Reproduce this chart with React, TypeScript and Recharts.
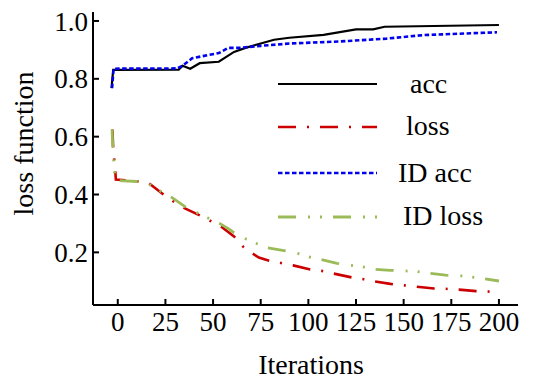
import React from 'react';
import { LineChart, Line, XAxis, YAxis } from 'recharts';

const accIter = [-3.3, -2.4, 32, 34, 38, 43, 53, 61, 67, 75, 82, 90, 108, 125, 134, 140, 200];
const accVal = [0.768, 0.831, 0.832, 0.845, 0.835, 0.854, 0.859, 0.893, 0.907, 0.922, 0.935, 0.942, 0.952, 0.971, 0.971, 0.98, 0.986];

const idAccIter = [-3, -2.2, 31, 34, 39, 48, 53, 58, 64, 75, 90, 116, 141, 160, 199];
const idAccVal = [0.768, 0.835, 0.836, 0.845, 0.871, 0.883, 0.889, 0.907, 0.907, 0.914, 0.922, 0.929, 0.939, 0.951, 0.961];

const lossIter = [-2.8, -2.4, -1.3, -1, 10, 16, 24, 29, 35.5, 43, 54, 61, 66, 70, 74, 79, 85, 92, 101, 107, 113, 123, 129, 135, 143, 150, 157, 166, 172, 179, 188, 200];
const lossVal = [0.625, 0.56, 0.48, 0.452, 0.446, 0.441, 0.4, 0.377, 0.351, 0.328, 0.29, 0.255, 0.218, 0.199, 0.182, 0.172, 0.164, 0.155, 0.141, 0.136, 0.127, 0.113, 0.107, 0.099, 0.091, 0.086, 0.081, 0.075, 0.074, 0.071, 0.066, 0.063];

const idLossIter = [-3, -2.6, -1.5, -1, 10, 16, 24, 28.5, 36, 42, 47, 53, 58, 61, 66, 72, 78, 88, 94, 100, 106, 115, 121, 128, 134, 143, 150, 157, 163, 172, 182, 191, 200];
const idLossVal = [0.625, 0.56, 0.46, 0.449, 0.445, 0.437, 0.405, 0.389, 0.355, 0.335, 0.32, 0.302, 0.282, 0.268, 0.25, 0.233, 0.216, 0.205, 0.197, 0.185, 0.176, 0.162, 0.156, 0.151, 0.142, 0.138, 0.136, 0.134, 0.128, 0.121, 0.118, 0.11, 0.101];

const xTicks = [0, 25, 50, 75, 100, 125, 150, 175, 200];
const yTicks = [0.2, 0.4, 0.6, 0.8, 1.0];

const legendLabels = ['acc', 'loss', 'ID acc', 'ID loss'];

const toPoints = (xs: number[], ys: number[]) => xs.map((x, i) => ({ x, y: ys[i] }));

const W = 527;
const H = 373;
const FONT = '"Liberation Serif", "Times New Roman", serif';

const C_ACC = '#000000';
const C_LOSS = '#cc0000';
const C_IDACC = '#0000ee';
const C_IDLOSS = '#9bbb59';

const styles = [
  { color: C_ACC, dash: undefined as string | undefined, width: 2.2 },
  { color: C_LOSS, dash: '18 11 2 11', width: 2.6 },
  { color: C_IDACC, dash: '4.5 2.5', width: 2.6 },
  { color: C_IDLOSS, dash: '18 12 2 10 2 11', width: 2.8 },
];

const legendLineY = [76, 119, 165, 209];
const legendTextX = [402, 398, 390, 395];
const legendTextY = [85, 127, 174, 217];

export default function App() {
  const series = [
    toPoints(accIter, accVal),
    toPoints(lossIter, lossVal),
    toPoints(idAccIter, idAccVal),
    toPoints(idLossIter, idLossVal),
  ];
  return (
    <div style={{ position: 'relative', width: W, height: H }}>
      <LineChart width={W} height={H} margin={{ top: 4, right: 17, left: 0, bottom: 0 }}>
        <XAxis
          dataKey="x"
          type="number"
          domain={[-13, 210]}
          ticks={xTicks}
          allowDataOverflow
          height={76}
          axisLine={{ stroke: '#000', strokeWidth: 2 }}
          tickLine={{ stroke: '#000', strokeWidth: 2 }}
          tickSize={-6}
          tickMargin={13}
          tick={{ fill: '#000', fontSize: 27, fontFamily: FONT }}
          interval={0}
        />
        <YAxis
          dataKey="y"
          type="number"
          domain={[0.018, 1.031]}
          ticks={yTicks}
          allowDataOverflow
          width={85}
          axisLine={{ stroke: '#000', strokeWidth: 2 }}
          tickLine={{ stroke: '#000', strokeWidth: 2 }}
          tickSize={-6}
          tickMargin={11}
          tickFormatter={(v: number) => v.toFixed(1)}
          tick={{ fill: '#000', fontSize: 27, fontFamily: FONT }}
          interval={0}
        />
        {series.map((d, i) => (
          <Line
            key={legendLabels[i]}
            data={d}
            dataKey="y"
            type="linear"
            stroke={styles[i].color}
            strokeWidth={styles[i].width}
            strokeDasharray={styles[i].dash}
            dot={false}
            activeDot={false}
            isAnimationActive={false}
          />
        ))}
      </LineChart>
      <svg width={W} height={H} style={{ position: 'absolute', left: 0, top: 0, pointerEvents: 'none' }}>
        {legendLabels.map((lab, i) => (
          <g key={lab}>
            <line x1={270} x2={369} y1={legendLineY[i]} y2={legendLineY[i]} stroke={styles[i].color} strokeWidth={styles[i].width} strokeDasharray={styles[i].dash} />
            <text x={legendTextX[i]} y={legendTextY[i]} fontFamily={FONT} fontSize={28} fill="#000">{lab}</text>
          </g>
        ))}
        <text x={303} y={366} textAnchor="middle" fontFamily={FONT} fontSize={28} fill="#000">Iterations</text>
        <text x={0} y={0} transform="translate(25,135.5) rotate(-90)" textAnchor="middle" fontFamily={FONT} fontSize={28} fill="#000">loss function</text>
      </svg>
    </div>
  );
}
